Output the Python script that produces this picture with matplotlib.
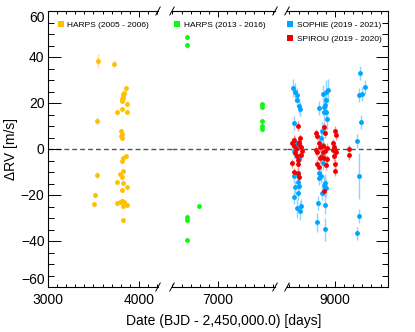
import matplotlib.pyplot as plt
from matplotlib.lines import Line2D
from matplotlib.ticker import MultipleLocator

plt.rcParams['font.family'] = ['Liberation Sans', 'DejaVu Sans']

# HARPS (2005 - 2006)
harps1_t = [3509, 3520, 3542, 3542, 3546, 3725, 3755, 3755, 3755, 3790, 3790,
            3802, 3806, 3808, 3810, 3810, 3812, 3812, 3812, 3815, 3815, 3818,
            3820, 3822, 3825, 3828, 3828, 3828, 3828, 3828, 3832, 3835, 3838,
            3861, 3861, 3866, 3868, 3868, 3866]
harps1_rv = [-24.1, -20.1, -11.3, 12.2, 38.4, 37.1, 15.9, -14.3, -23.6, -11.0, -22.9,
             7.8, 5.5, 5.0, 17.2, 6.5, -5.1, -12.0, -22.5, -17.8, 20.9, 21.6,
             22.3, 23.0, 23.8, -4.1, -9.7, -14.6, -30.9, -24.8, 24.5, -22.9, -23.9,
             26.4, -3.0, 19.7, 16.1, -16.5, -24.3]
harps1_err = [1.2, 1.2, 1.2, 1.5, 3.0, 1.5] + [1.0] * 33

# HARPS (2013 - 2016)
harps2_t = [6656, 6656, 6656, 6656, 6656, 6795, 7487, 7487, 7487, 7487, 7487]
harps2_rv = [48.6, 45.1, -29.4, -30.9, -39.6, -24.8, 19.5, 18.2, 12.2, 10.0, 8.6]
harps2_err = [1.0] * 11

# SOPHIE (2019 - 2021)
sophie_t = [8542, 8557, 8579, 8586, 8604, 8615, 8553, 8549, 8560, 8549, 8590,
            8593, 8604, 8579, 8623, 8615, 8595, 8565, 8550, 8600, 8585,
            8923, 8905, 8865, 8901, 8895, 8879, 8824, 8875, 8897, 8912, 8860,
            8870, 8850, 8860, 8828, 8820, 8845, 8854, 8880, 8895, 8885, 8905,
            8817, 8885, 8799, 8890, 8870,
            9278, 9326, 9260, 9300, 9289, 9242, 9264, 9267, 9238]
sophie_rv = [26.4, 24.6, 23.5, 21.3, 18.7, 17.3, 11.2, -11.6, -16.7, -21.0, -14.2,
             -19.3, -16.1, -25.8, -24.6, -26.8, -11.0, 2.5, -1.0, -4.5, 0.5,
             25.6, 24.8, 23.8, 21.3, 19.0, 18.4, 17.7, 16.0, 16.0, 12.9, 7.8,
             1.7, 4.6, -3.0, -10.6, -12.8, -11.6, -19.3, -15.7, -14.8, -16.6, -17.0,
             -23.6, -24.3, -31.9, -34.9, -6.0,
             32.9, 26.8, 23.6, 23.9, 11.7, 3.6, -11.6, -29.0, -36.7]
sophie_err = [4, 4, 3, 3, 3, 3, 3, 3, 3, 3, 3,
              3, 3, 4, 3, 4, 3, 3, 3, 3, 3,
              5, 5, 4, 4, 4, 4, 3, 4, 4, 4, 4,
              3, 3, 3, 3, 3, 3, 3, 4, 4, 4, 4,
              3, 4, 4, 5, 3,
              3, 3, 3, 3, 3, 3, 10, 3, 3]

# SPIROU (2019 - 2020)
spirou_t = [8530, 8545, 8560, 8593, 8600, 8620, 8630, 8640, 8530, 8545, 8598,
            8605, 8597, 8592, 8575, 8610, 8585, 8625, 8555,
            8790, 8805, 8825, 8790, 8805, 8835, 8850, 8879, 8887, 8865, 8895,
            8880, 8912, 8900, 8882, 8800, 8830, 8820, 8870, 8910,
            9000, 9007, 8980, 8975, 9000, 8985, 9015, 9000, 9000, 8990,
            9154, 9154]
spirou_rv = [2.8, 1.3, -1.9, 10.0, 3.2, 4.6, 0.8, -1.0, -6.2, -10.1, -10.6,
             -12.0, -6.5, -4.9, 0.0, 2.0, -3.0, -2.5, 4.0,
             6.8, 5.8, 2.4, -0.5, -1.4, 0.8, -3.5, 9.7, 6.8, -1.5, -1.0,
             -4.0, -4.5, -7.0, -18.3, -6.5, -4.0, -8.0, 1.5, 0.5,
             8.0, 6.1, 2.5, -0.5, -0.4, -3.0, -1.5, -6.5, -9.6, 1.0,
             -0.2, -2.6]
spirou_err = [2.0] * len(spirou_t)

series = [
    (harps1_t, harps1_rv, harps1_err, '#FFC000', '#FFE08A', 'HARPS (2005 - 2006)'),
    (harps2_t, harps2_rv, harps2_err, '#10F810', '#A0FFA0', 'HARPS (2013 - 2016)'),
    (sophie_t, sophie_rv, sophie_err, '#00A5FF', '#8FD3FF', 'SOPHIE (2019 - 2021)'),
    (spirou_t, spirou_rv, spirou_err, '#F00000', '#FF9090', 'SPIROU (2019 - 2020)'),
]

W, H = 415, 332
fig = plt.figure(figsize=(W / 100, H / 100), dpi=100)

# broken x axis: pixel extent and date range of each piece
top, bot = 11, 287
pieces = [(48, 158, 3000, 4209), (172, 275, 6495, 7626), (287, 388, 8473, 9582)]
axes = []
for i, (l, r, x0, x1) in enumerate(pieces):
    ax = fig.add_axes([l / W, 1 - bot / H, (r - l) / W, (bot - top) / H])
    ax.set_xlim(x0, x1)
    ax.set_ylim(-60, 60)
    ax.xaxis.set_major_locator(MultipleLocator(1000))
    ax.xaxis.set_minor_locator(MultipleLocator(100))
    ax.yaxis.set_major_locator(MultipleLocator(20))
    ax.yaxis.set_minor_locator(MultipleLocator(5))
    ax.tick_params(which='both', direction='in', top=True, width=0.7,
                   labelsize=10)
    ax.tick_params(axis='x', which='both', pad=4)
    ax.tick_params(axis='y', which='both', pad=2.5)
    ax.tick_params(axis='x', which='major', length=4)
    ax.tick_params(axis='x', which='minor', length=2)
    ax.tick_params(axis='y', which='major', length=9)
    ax.tick_params(axis='y', which='minor', length=4.3)
    for s in ax.spines.values():
        s.set_linewidth(0.8)
    if i > 0:
        ax.spines['left'].set_visible(False)
        ax.tick_params(axis='y', which='both', left=False, labelleft=False)
    if i < 2:
        ax.spines['right'].set_visible(False)
    else:
        ax.tick_params(axis='y', which='both', right=True)
    axes.append(ax)

# keep the end labels of the y axis inside the frame
yt = axes[0].yaxis.get_major_ticks()
fig.canvas.draw()
for tk in axes[0].yaxis.get_major_ticks():
    v = tk.get_loc()
    if v <= -60:
        tk.label1.set_va('bottom')
    elif v >= 60:
        tk.label1.set_va('top')

for i, ax in enumerate(axes):
    l, r = pieces[i][0], pieces[i][1]
    ext = 1.0
    if i < 2:
        ext = (pieces[i + 1][0] - l) / (r - l)
    ax.axhline(0, xmin=0, xmax=ext, color='#555555', lw=1.0,
               ls=(0, (3.5, 2.2)), clip_on=False, zorder=1)
    for t, rv, err, c, ec, lab in series:
        ax.errorbar(t, rv, yerr=err, fmt='o', ms=3.5, mew=0, color=c,
                    ecolor=ec, elinewidth=1, capsize=0, zorder=3)

# break marks
for i, ax in enumerate(axes):
    l, r = pieces[i][0], pieces[i][1]
    dx = 2.2 / (r - l)
    dy = 4.0 / (bot - top)
    ends = []
    if i > 0:
        ends.append(0)
    if i < 2:
        ends.append(1)
    for xe in ends:
        for ye in (0, 1):
            ax.plot([xe - dx, xe + dx], [ye - dy, ye + dy], color='k', lw=0.7,
                    transform=ax.transAxes, clip_on=False)

# legends
def handle(c, lab):
    return Line2D([], [], marker='s', ls='none', ms=4, mew=0, color=c, label=lab)

leg_spec = [(0, [0], (0.07, 0.968)), (1, [1], (0.0, 0.968)), (2, [2, 3], (-0.02, 0.968))]
for ai, idx, anchor in leg_spec:
    hs = [handle(series[k][3], series[k][5]) for k in idx]
    axes[ai].legend(handles=hs, loc='upper left', bbox_to_anchor=anchor,
                    frameon=False, fontsize=6, handlelength=0.8,
                    handletextpad=0.4, borderaxespad=0, borderpad=0.2,
                    labelspacing=0.75)

axes[0].set_ylabel('ΔRV [m/s]', fontsize=10, labelpad=2)
axes[1].set_xlabel('Date (BJD - 2,450,000.0) [days]', fontsize=10, labelpad=5)

fig.savefig('out.png', dpi=100)
